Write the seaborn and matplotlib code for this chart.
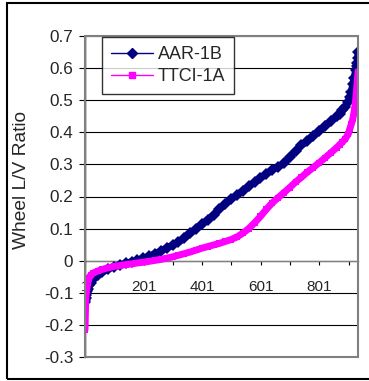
import matplotlib
matplotlib.use("Agg")
import matplotlib.pyplot as plt
import seaborn as sns
from matplotlib.lines import Line2D
from matplotlib.patches import Rectangle

sns.set_theme(style="white")
plt.rcParams['font.family'] = ['Liberation Sans', 'DejaVu Sans']

# sample positions (wheel number after sorting) and L/V ratios
idx = [1, 2, 3, 4, 5, 7, 10, 15, 20, 30, 45, 60, 80, 100, 120, 140, 160, 180, 200,
       220, 240, 260, 280, 300, 320, 340, 360, 380, 400, 420, 440, 460, 480, 500,
       520, 540, 560, 580, 600, 620, 640, 660, 680, 700, 720, 740, 760, 780, 800,
       820, 840, 860, 870, 880, 890, 900, 905, 910, 915, 920, 925, 928, 930, 932, 933]

aar_1b = [-0.130, -0.122, -0.115, -0.108, -0.102, -0.095, -0.088, -0.077, -0.068,
          -0.058, -0.046, -0.036, -0.026, -0.019, -0.013, -0.008, -0.003, 0.002,
          0.008, 0.014, 0.022, 0.030, 0.040, 0.048, 0.058, 0.070, 0.085, 0.100,
          0.113, 0.128, 0.142, 0.160, 0.177, 0.192, 0.205, 0.218, 0.232, 0.245,
          0.258, 0.270, 0.284, 0.292, 0.303, 0.323, 0.342, 0.360, 0.372, 0.388,
          0.405, 0.420, 0.435, 0.450, 0.458, 0.468, 0.478, 0.495, 0.510, 0.525,
          0.550, 0.570, 0.595, 0.605, 0.615, 0.630, 0.651]

ttci_1a = [-0.216, -0.178, -0.143, -0.120, -0.105, -0.090, -0.070, -0.055, -0.045,
           -0.038, -0.032, -0.027, -0.022, -0.018, -0.015, -0.012, -0.010, -0.007,
           -0.005, -0.002, 0.001, 0.004, 0.008, 0.012, 0.017, 0.022, 0.027, 0.033,
           0.039, 0.044, 0.049, 0.054, 0.060, 0.066, 0.074, 0.086, 0.100, 0.118,
           0.138, 0.160, 0.180, 0.196, 0.212, 0.228, 0.245, 0.260, 0.276, 0.290,
           0.305, 0.320, 0.336, 0.352, 0.361, 0.370, 0.380, 0.395, 0.410, 0.425,
           0.440, 0.465, 0.500, 0.530, 0.555, 0.575, 0.589]

x_ticks = [1, 201, 401, 601, 801]
x_minor = [101, 301, 501, 701, 901]
y_ticks = [-0.3, -0.2, -0.1, 0, 0.1, 0.2, 0.3, 0.4, 0.5, 0.6, 0.7]
y_labels = ['-0.3', '-0.2', '-0.1', '0', '0.1', '0.2', '0.3', '0.4', '0.5', '0.6', '0.7']

navy = '#000080'
magenta = '#FF00FF'

fig = plt.figure(figsize=(3.69, 3.81), dpi=100)
ax = fig.add_axes([85 / 369, 24 / 381, 273 / 369, 321 / 381])

sns.lineplot(x=idx, y=aar_1b, color=navy, marker='D', markersize=6.5,
             markeredgewidth=0, linewidth=5, estimator=None, sort=False,
             ax=ax, legend=False, zorder=3)
sns.lineplot(x=idx, y=ttci_1a, color=magenta, marker='s', markersize=5,
             markeredgewidth=0, linewidth=5, estimator=None, sort=False,
             ax=ax, legend=False, zorder=4)

ax.set_xlim(1, 933)
ax.set_ylim(-0.3, 0.7)

# horizontal gridlines
for v in y_ticks:
    ax.axhline(v, color='black', linewidth=0.8, zorder=1)

ax.set_yticks(y_ticks)
ax.set_yticklabels(y_labels, fontsize=12.3)
ax.set_xticks(x_ticks)
ax.set_xticklabels([str(t) for t in x_ticks], fontsize=12.3)
ax.set_xticks(x_minor, minor=True)

for s in ['top', 'right']:
    ax.spines[s].set_visible(False)
ax.spines['bottom'].set_position(('data', 0))
ax.spines['bottom'].set_color('#808080')
ax.spines['bottom'].set_linewidth(1.0)
ax.spines['bottom'].set_zorder(2)
ax.spines['left'].set_color('black')
ax.spines['left'].set_linewidth(1.0)

ax.tick_params(axis='x', which='both', direction='out', length=3, width=0.8,
               color='black', pad=11, bottom=True)
ax.tick_params(axis='y', direction='out', length=4.5, width=0.8,
               color='black', pad=4, left=True)

# plot area border (grey)
ax.add_patch(Rectangle((0, 0), 1, 1, transform=ax.transAxes, fill=False,
                       edgecolor='#808080', linewidth=1.5, zorder=5, clip_on=False))

ax.set_ylabel('')
fig.text(22 / 369, 1 - 180 / 381, 'Wheel L/V Ratio', rotation=90,
         ha='center', va='center', fontsize=13.8)

handles = [Line2D([], [], color=navy, marker='D', markersize=5, linewidth=1),
           Line2D([], [], color=magenta, marker='s', markersize=5, linewidth=1)]
leg = ax.legend(handles, ['AAR-1B', 'TTCI-1A'], loc='upper left',
                bbox_to_anchor=(102 / 369, 1 - 37 / 381), bbox_transform=fig.transFigure,
                fontsize=13, frameon=True, fancybox=False, borderaxespad=0,
                handlelength=2.3, handletextpad=0.3, labelspacing=0.3,
                borderpad=0.5)
leg.get_frame().set_edgecolor('black')
leg.get_frame().set_linewidth(1.0)
leg.set_zorder(6)

# outer chart border
fig.patches.append(Rectangle((7 / 369, 2 / 381), 1.0, 376 / 381,
                             transform=fig.transFigure, fill=False,
                             edgecolor='black', linewidth=1.5))

fig.savefig('out.png', dpi=100)
